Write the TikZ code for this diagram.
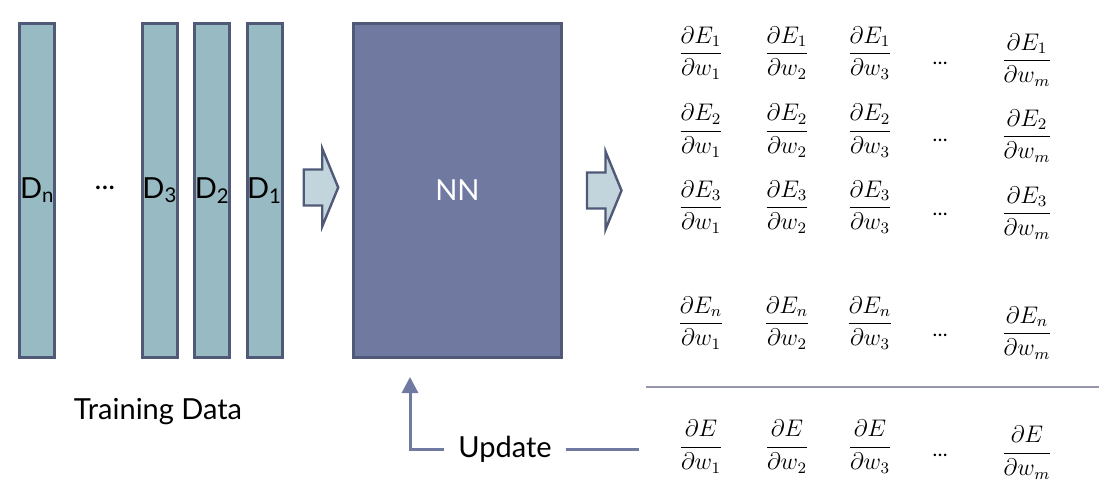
\documentclass[tikz,border=0pt]{standalone}
\usepackage[no-math]{fontspec}
\setmainfont{Lato}
\usepackage{amsmath}
\usetikzlibrary{arrows.meta,positioning,calc}
\definecolor{barfill}{RGB}{151,186,195}
\definecolor{barline}{RGB}{80,90,120}
\definecolor{nnfill}{RGB}{112,122,160}
\definecolor{arrfill}{RGB}{194,213,220}
\definecolor{ruleline}{RGB}{150,150,170}
\tikzset{blockarrow/.pic={\draw[draw=barline, line width=1.2pt, fill=arrfill, line join=miter] (-17.5,-18) -- (1,-18) -- (1,-39) -- (17,0) -- (1,39) -- (1,18) -- (-17.5,18) -- cycle;}}

\begin{document}
\begin{tikzpicture}[
  x=0.5pt, y=-0.5pt,
  font=\fontsize{14.5}{17}\selectfont,
  databar/.style={draw=barline, line width=1.5pt, fill=barfill, minimum width=17.5pt, minimum height=167.2pt, inner sep=0pt},
  nnbox/.style={draw=barline, line width=1.5pt, fill=nnfill, minimum width=104.2pt, minimum height=167.2pt, text=white},
  grad/.style={font=\fontsize{11.5}{14}\selectfont, inner sep=0pt},
  gdots/.style={font=\fontsize{10}{12}\selectfont, inner sep=0pt},
  updarr/.style={draw=nnfill, line width=1.5pt},
]
\useasboundingbox (0,0) rectangle (1112,496);
% training data
\node[databar] (dn) at (37.2,190.3) {D\textsubscript{n}};
\node (ddots) at (105,188) {...};
\node[databar] (d3) at (159.9,190.3) {D\textsubscript{3}};
\node[databar, right=7.15pt of d3] (d2) {D\textsubscript{2}};
\node[databar, right=7.15pt of d2] (d1) {D\textsubscript{1}};
\node (train) at (158,412) {Training Data};
% network
\node[nnbox] (nn) at (457.4,190.3) {NN};
\pic at (321.2,187.5) {blockarrow};
\pic at (604.5,190.5) {blockarrow};
% gradients
\foreach \row/\y/\ym/\yd in {1/53/60/63, 2/130.7/136/140, 3/207/213/214, n/323/333/335} {
  \foreach \col/\x in {1/701, 2/787, 3/870}
    \node[grad] (g\row\col) at (\x,\y) {$\dfrac{\partial E_{\row}}{\partial w_{\col}}$};
  \node[gdots] (g\row dots) at (940,\yd) {…};
  \node[grad] (g\row m) at (1027,\ym) {$\dfrac{\partial E_{\row}}{\partial w_m}$};
}
\draw[draw=ruleline, line width=0.8pt] (646,386.7) -- (1099,386.7);
\foreach \col/\x in {1/701, 2/787, 3/870}
  \node[grad] (gs\col) at (\x,446.7) {$\dfrac{\partial E}{\partial w_{\col}}$};
\node[gdots] (gsdots) at (940,455) {…};
\node[grad] (gsm) at (1027,452.7) {$\dfrac{\partial E}{\partial w_m}$};
% update
\node[inner xsep=6.75pt] (upd) at (505,449) {Update};
\coordinate (nnin) at (410,377);
\coordinate (sumin) at (639,449);
\draw[updarr, -{Triangle[width=8pt, length=8pt]}] (upd.west) -| (nnin);
\draw[updarr] (upd.east) -- (sumin);
\end{tikzpicture}
\end{document}
